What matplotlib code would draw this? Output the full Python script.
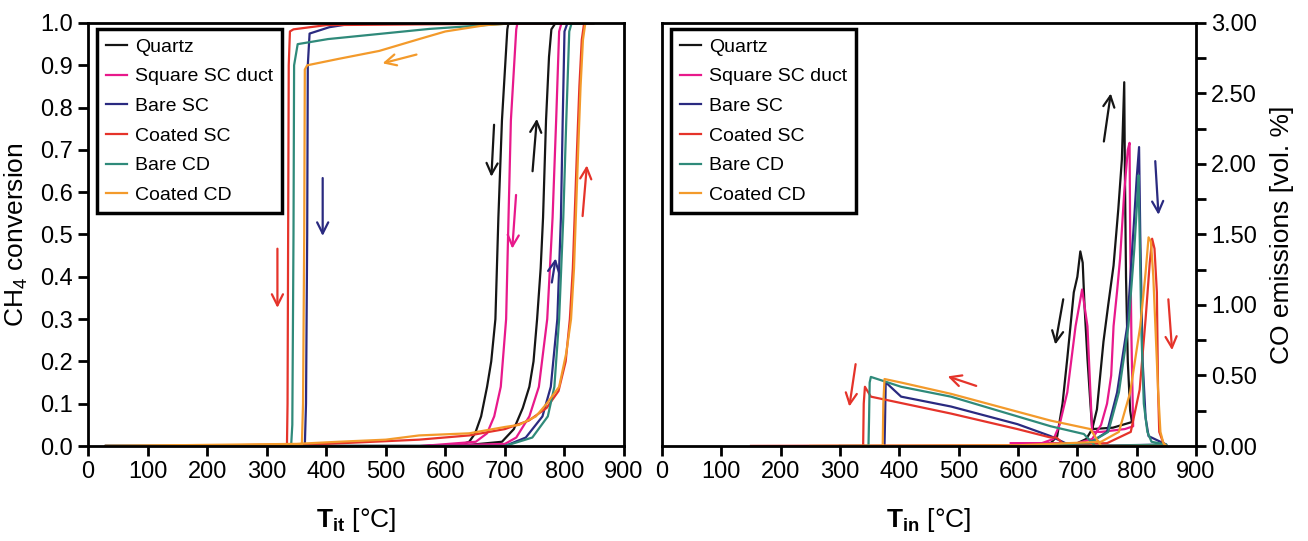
import matplotlib
matplotlib.use("Agg")
import matplotlib.pyplot as plt
from matplotlib.ticker import MultipleLocator, FormatStrFormatter

plt.rcParams['font.family'] = ['Liberation Sans', 'DejaVu Sans']
plt.rcParams['mathtext.fontset'] = 'custom'
plt.rcParams['mathtext.rm'] = 'Liberation Sans'
plt.rcParams['mathtext.bf'] = 'Liberation Sans:bold'

labels = ['Quartz', 'Square SC duct', 'Bare SC', 'Coated SC', 'Bare CD', 'Coated CD']
colors = ['#151515', '#e8198b', '#2a2a80', '#e5332a', '#2f8a7a', '#f39a2b']

# --- CH4 conversion vs inlet temperature (heating branch, then cooling branch) ---
conv_T = {
    'Quartz': [30, 620, 695, 715, 730, 741, 748, 754, 760, 764, 769, 774, 778, 785, 850,
               706, 704, 695, 689, 684, 677, 670, 660, 650, 640, 620, 30],
    'Square SC duct': [560, 700, 719, 741, 757, 771, 780, 786, 791, 795, 850,
                       721, 719, 710, 706, 702, 693, 682, 670, 651, 560],
    'Bare SC': [30, 700, 735, 763, 777, 788, 794, 797, 800, 805, 850,
                450, 405, 372, 369, 368, 366, 364, 30],
    'Coated SC': [150, 400, 556, 640, 700, 740, 770, 790, 802, 809, 814, 817, 821, 825, 829, 833, 850,
                  400, 345, 339, 337, 336, 335, 334, 30],
    'Bare CD': [30, 700, 746, 772, 783, 791, 798, 803, 808, 812, 850,
                720, 573, 403, 352, 346, 345, 343, 341, 30],
    'Coated CD': [30, 350, 420, 500, 556, 640, 700, 724, 752, 770, 791, 803, 811, 816, 819, 823, 827, 831, 835, 850,
                  720, 668, 600, 556, 489, 420, 368, 364, 363, 361, 359, 30],
}
conv_X = {
    'Quartz': [0, 0, 0.01, 0.04, 0.09, 0.14, 0.2, 0.3, 0.42, 0.54, 0.77, 0.92, 0.985, 1.0, 1.0,
               1.0, 0.985, 0.77, 0.54, 0.30, 0.2, 0.14, 0.07, 0.03, 0.01, 0, 0],
    'Square SC duct': [0, 0.005, 0.02, 0.07, 0.14, 0.3, 0.54, 0.77, 0.98, 1.0, 1.0,
                       1.0, 0.985, 0.77, 0.54, 0.3, 0.14, 0.07, 0.03, 0.01, 0],
    'Bare SC': [0, 0, 0.02, 0.07, 0.14, 0.3, 0.54, 0.77, 0.98, 1.0, 1.0,
                1.0, 0.99, 0.975, 0.9, 0.5, 0.1, 0, 0],
    'Coated SC': [0, 0.005, 0.015, 0.025, 0.04, 0.06, 0.09, 0.13, 0.2, 0.3, 0.42, 0.54, 0.7, 0.85, 0.96, 1.0, 1.0,
                  0.995, 0.985, 0.98, 0.9, 0.5, 0.1, 0, 0],
    'Bare CD': [0, 0, 0.02, 0.07, 0.14, 0.3, 0.54, 0.77, 0.98, 1.0, 1.0,
                1.0, 0.986, 0.962, 0.95, 0.9, 0.5, 0.05, 0, 0],
    'Coated CD': [0, 0.005, 0.01, 0.015, 0.025, 0.03, 0.045, 0.05, 0.07, 0.1, 0.14, 0.22, 0.3, 0.42, 0.54, 0.7, 0.85, 0.96, 1.0, 1.0,
                  1.0, 0.995, 0.98, 0.962, 0.934, 0.915, 0.9, 0.89, 0.5, 0.1, 0, 0],
}

# --- CO emissions vs inlet temperature ---
co_T = {
    'Quartz': [590, 700, 715, 725, 733, 744, 752, 761, 769, 775, 779, 780, 782, 785, 789, 792,
               760, 725, 722, 717, 712, 709, 705, 700, 694, 683, 675, 666, 655, 600],
    'Square SC duct': [588, 700, 725, 740, 750, 757, 761, 767, 772, 779, 785, 788, 789, 791, 794,
                       780, 740, 725, 722, 717, 708, 697, 683, 670, 660, 640, 588],
    'Bare SC': [600, 720, 750, 767, 784, 795, 800, 804, 806, 810, 815, 820, 850,
                690, 655, 599, 487, 403, 380, 377, 376, 375, 300],
    'Coated SC': [150, 600, 750, 790, 805, 815, 822, 826, 830, 834, 836, 838, 845, 850,
                  680, 665, 655, 599, 487, 352, 342, 340, 339, 150],
    'Bare CD': [600, 720, 752, 770, 786, 796, 801, 803, 805, 808, 812, 818, 825, 850,
                730, 711, 655, 487, 403, 352, 350, 349, 348, 300],
    'Coated CD': [250, 600, 740, 770, 789, 806, 815, 820, 824, 828, 832, 836, 840, 845, 850,
                  740, 722, 655, 487, 403, 375, 373, 372, 250],
}
co_Y = {
    'Quartz': [0.01, 0.02, 0.05, 0.12, 0.26, 0.74, 1.0, 1.28, 1.68, 2.03, 2.58, 2.0, 1.2, 0.6, 0.25, 0.17,
               0.13, 0.12, 0.3, 0.62, 1.0, 1.3, 1.38, 1.2, 1.09, 0.62, 0.3, 0.07, 0.02, 0.01],
    'Square SC duct': [0.02, 0.02, 0.05, 0.15, 0.3, 0.5, 0.85, 1.1, 1.33, 1.8, 2.1, 2.15, 1.5, 0.8, 0.14,
                       0.12, 0.1, 0.1, 0.38, 0.85, 1.11, 0.85, 0.38, 0.15, 0.05, 0.02, 0.02],
    'Bare SC': [0, 0.02, 0.1, 0.38, 0.85, 1.56, 1.9, 2.12, 1.5, 0.6, 0.2, 0.07, 0.01,
                0.0, 0.07, 0.155, 0.28, 0.35, 0.44, 0.45, 0.2, 0, 0],
    'Coated SC': [0, 0.005, 0.02, 0.1, 0.4, 0.9, 1.3, 1.47, 1.4, 1.09, 0.4, 0.1, 0.02, 0,
                  0, 0.06, 0.06, 0.12, 0.23, 0.35, 0.42, 0.3, 0, 0],
    'Bare CD': [0, 0.02, 0.1, 0.38, 0.85, 1.4, 1.75, 1.92, 1.5, 0.8, 0.3, 0.1, 0.03, 0.01,
                0.0, 0.085, 0.14, 0.35, 0.42, 0.49, 0.45, 0.2, 0, 0],
    'Coated CD': [0, 0.005, 0.03, 0.1, 0.38, 0.85, 1.23, 1.48, 1.45, 1.2, 0.8, 0.4, 0.1, 0.02, 0,
                  0.0, 0.12, 0.18, 0.37, 0.45, 0.475, 0.3, 0, 0],
}

# direction arrows: (series, tail, head)
conv_arrows = [
    ('Quartz', (682, 0.766), (677, 0.63)),
    ('Quartz', (746, 0.643), (754, 0.78)),
    ('Square SC duct', (719, 0.60), (712, 0.46)),
    ('Bare SC', (778, 0.38), (786, 0.45)),
    ('Coated SC', (830, 0.537), (838, 0.67)),
    ('Coated CD', (556, 0.927), (490, 0.903)),
    ('Bare SC', (394, 0.64), (394, 0.49)),
    ('Coated SC', (318, 0.473), (318, 0.32)),
]
co_arrows = [
    ('Quartz', (744, 2.14), (757, 2.52)),
    ('Quartz', (677, 1.06), (662, 0.70)),
    ('Bare SC', (831, 2.04), (837, 1.62)),
    ('Coated SC', (853, 1.06), (860, 0.66)),
    ('Coated SC', (534, 0.42), (477, 0.50)),
    ('Coated SC', (327, 0.60), (315, 0.26)),
]

col = dict(zip(labels, colors))

fig = plt.figure(figsize=(13.08, 5.41), dpi=100)
ax1 = fig.add_axes([0.0673, 0.1756, 0.4098, 0.7819])
ax2 = fig.add_axes([0.5061, 0.1756, 0.4083, 0.7819])

for name in labels:
    ax1.plot(conv_T[name], conv_X[name], color=col[name], lw=1.6, label=name)
    ax2.plot(co_T[name], co_Y[name], color=col[name], lw=1.6, label=name)

for ax, arrows in ((ax1, conv_arrows), (ax2, co_arrows)):
    for name, tail, head in arrows:
        ax.annotate('', xy=head, xytext=tail,
                    arrowprops=dict(arrowstyle='->', color=col[name], lw=1.6, mutation_scale=20))

for ax in (ax1, ax2):
    ax.set_xlim(0, 900)
    ax.xaxis.set_major_locator(MultipleLocator(100))
    for s in ax.spines.values():
        s.set_linewidth(2)
    ax.tick_params(axis='both', direction='out', length=7, width=2, labelsize=17, pad=4)
    leg = ax.legend(loc='upper left', bbox_to_anchor=(0.017, 0.985), borderaxespad=0,
                    fontsize=14, handlelength=1.1, handletextpad=0.4, labelspacing=0.62,
                    fancybox=False, framealpha=1, edgecolor='black', borderpad=0.45)
    leg.get_frame().set_linewidth(2.5)

ax1.set_ylim(0, 1.0)
ax1.yaxis.set_major_locator(MultipleLocator(0.1))
ax1.yaxis.set_major_formatter(FormatStrFormatter('%.1f'))
ax1.set_ylabel('CH$_4$ conversion', fontsize=19, labelpad=7)
ax1.set_xlabel(r'$\mathbf{T}_{\mathbf{it}}$ [°C]', fontsize=19, labelpad=16)

ax2.set_ylim(0, 3.0)
ax2.yaxis.tick_right()
ax2.yaxis.set_label_position('right')
ax2.yaxis.set_major_locator(MultipleLocator(0.5))
ax2.yaxis.set_minor_locator(MultipleLocator(0.25))
ax2.yaxis.set_major_formatter(FormatStrFormatter('%.2f'))
ax2.tick_params(axis='y', which='minor', direction='out', length=7, width=2)
ax2.set_ylabel('CO emissions [vol. %]', fontsize=19, labelpad=9)
ax2.set_xlabel(r'$\mathbf{T}_{\mathbf{in}}$ [°C]', fontsize=19, labelpad=16)

fig.savefig('out.png', dpi=100)
